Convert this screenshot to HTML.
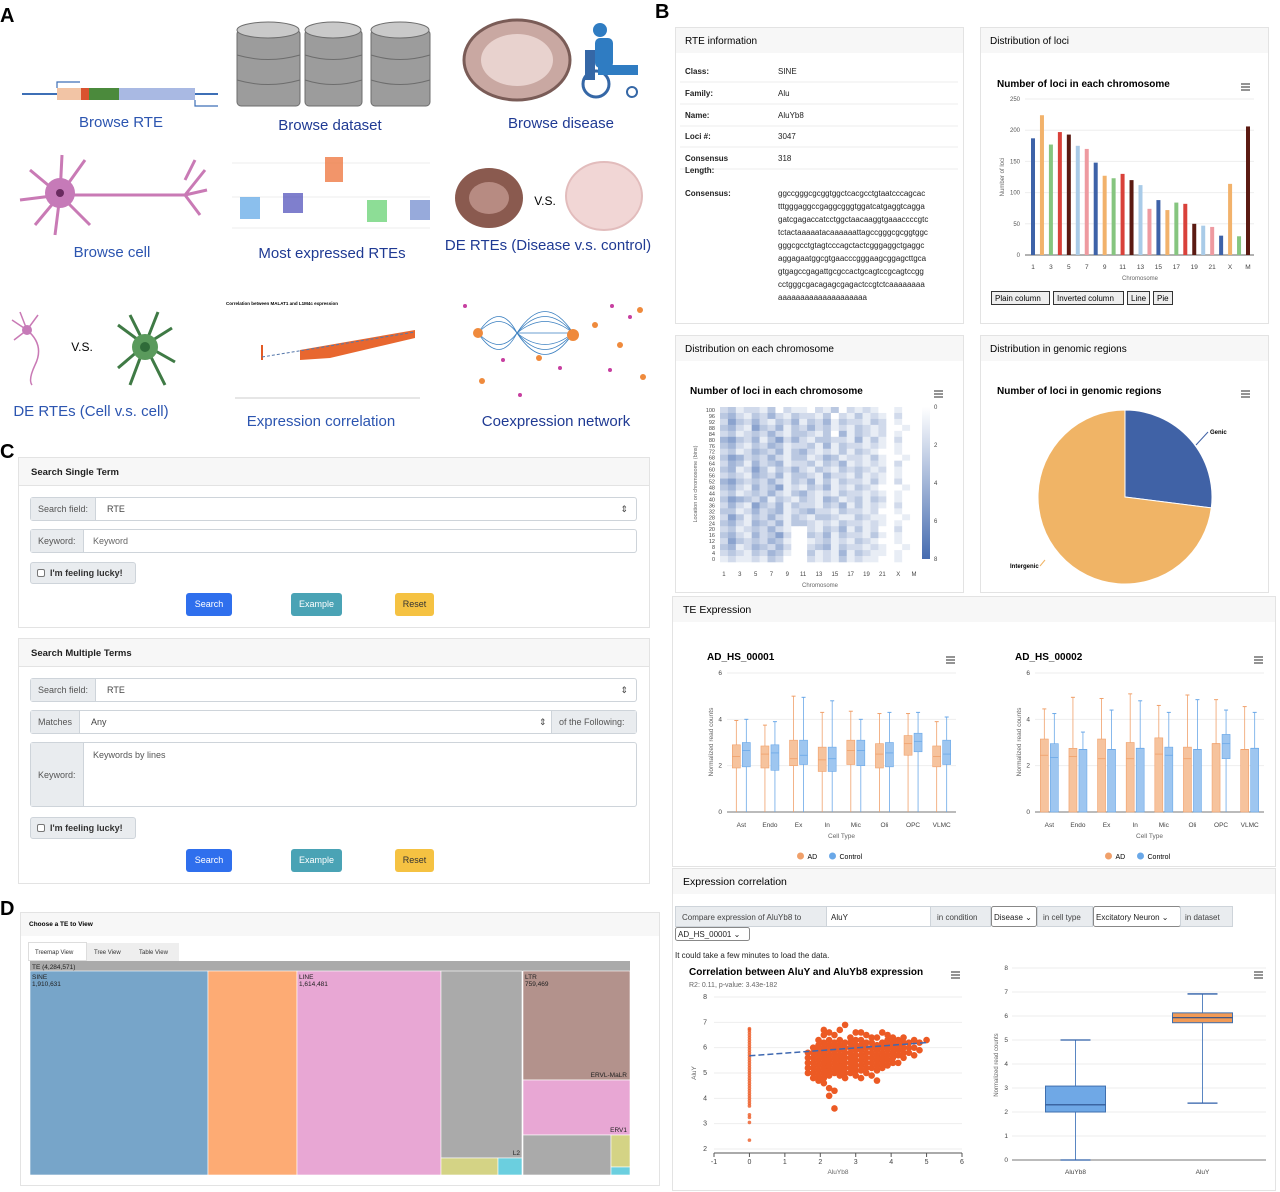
<!DOCTYPE html>
<html><head><meta charset="utf-8">
<style>
*{box-sizing:border-box;margin:0;padding:0}
body{width:1280px;height:1192px;background:#fff;font-family:"Liberation Sans",sans-serif;position:relative;overflow:hidden}
.abs{position:absolute}
.card{position:absolute;border:1px solid #e3e3e3;background:#fff}
.card .hd{background:#f7f7f7;border-bottom:1px solid #e3e3e3;font-size:9.5px;font-weight:bold;color:#222;padding:9px 12px;height:28px}
.grp{position:absolute;height:24px;border:1px solid #ced4da;border-radius:3px;font-size:9px;color:#444;background:#fff}
.grp .lb{position:absolute;left:0;top:0;bottom:0;background:#e9ecef;border-right:1px solid #ced4da;padding:6px 7px;color:#555}
.grp .val{position:absolute;top:6px}
.btn{position:absolute;height:23px;border-radius:3px;font-size:9px;color:#fff;text-align:center;line-height:23px}
.chk{position:absolute;height:22px;border:1px solid #ced4da;border-radius:3px;background:#e9ecef;font-size:9px;font-weight:bold;color:#333;padding:5px 6px}
.chk i{display:inline-block;width:8px;height:8px;border:1px solid #777;border-radius:2px;background:#fff;margin-right:5px;vertical-align:-1px}
</style></head>
<body>
<svg id="s" class="abs" style="left:0;top:0" width="1280" height="1192" font-family="Liberation Sans, sans-serif">
<text x="0" y="22" font-size="20" font-weight="bold">A</text>
<text x="655" y="18" font-size="20" font-weight="bold">B</text>
<text x="0" y="458" font-size="20" font-weight="bold">C</text>
<text x="0" y="915" font-size="20" font-weight="bold">D</text>

<g>
<line x1="22" y1="94" x2="218" y2="94" stroke="#3d6fb6" stroke-width="2"/>
<path d="M57 88 V82 H80 M195 100 V106 H218" stroke="#3d6fb6" fill="none" stroke-width="1.2"/>
<rect x="57" y="88" width="24" height="12" fill="#f2c4a5"/><rect x="81" y="88" width="8" height="12" fill="#d9532f"/>
<rect x="89" y="88" width="30" height="12" fill="#4b8a3c"/><rect x="119" y="88" width="76" height="12" fill="#a9b9e3"/>
<text x="121" y="127" font-size="15" fill="#2c55b0" text-anchor="middle">Browse RTE</text></g>
<g>
<g fill="#9c9c9c" stroke="#6d6d6d" stroke-width="1">
<rect x="237" y="30" width="63" height="76" rx="4"/><ellipse cx="268" cy="30" rx="31" ry="8" fill="#c9c9c9"/>
<rect x="305" y="30" width="57" height="76" rx="4"/><ellipse cx="333" cy="30" rx="28" ry="8" fill="#c9c9c9"/>
<rect x="371" y="30" width="59" height="76" rx="4"/><ellipse cx="400" cy="30" rx="29" ry="8" fill="#c9c9c9"/></g>
<path d="M237 55 Q268 64 300 55 M237 80 Q268 89 300 80 M305 55 Q333 64 362 55 M305 80 Q333 89 362 80 M371 55 Q400 64 430 55 M371 80 Q400 89 430 80" stroke="#6d6d6d" fill="none"/>
<text x="330" y="130" font-size="15" fill="#1f3a93" text-anchor="middle">Browse dataset</text></g>
<g>
<ellipse cx="517" cy="60" rx="53" ry="40" fill="#c9a8a2" stroke="#7a5c57" stroke-width="3"/>
<ellipse cx="517" cy="60" rx="36" ry="26" fill="#e8d2ce"/>
<circle cx="600" cy="30" r="7" fill="#2f7cc2"/><rect x="595" y="38" width="18" height="30" rx="5" fill="#2f7cc2"/>
<rect x="585" y="50" width="10" height="30" fill="#3567a6"/><circle cx="596" cy="84" r="13" fill="none" stroke="#3567a6" stroke-width="3"/>
<rect x="598" y="65" width="40" height="10" fill="#2f7cc2"/><circle cx="632" cy="92" r="5" fill="none" stroke="#3567a6" stroke-width="2"/>
<text x="561" y="128" font-size="15" fill="#1f3a93" text-anchor="middle">Browse disease</text></g>
<g>
<g stroke="#c97ab5" stroke-width="3" fill="none"><path d="M60 195 H185"/><path d="M185 195 L205 170 M185 195 L207 190 M185 195 L200 215 M185 180 L195 160"/>
<path d="M60 195 L30 170 M60 195 L20 200 M60 195 L35 225 M60 195 L62 155 M60 195 L85 160 M60 195 L90 225 M60 195 L55 235"/></g>
<circle cx="60" cy="193" r="15" fill="#c67ab8"/><circle cx="60" cy="193" r="4" fill="#6a2b60"/>
<text x="112" y="257" font-size="15" fill="#2c55b0" text-anchor="middle">Browse cell</text></g>
<g>
<line x1="232" y1="163" x2="430" y2="163" stroke="#eee"/><line x1="232" y1="197" x2="430" y2="197" stroke="#eee"/><line x1="232" y1="228" x2="430" y2="228" stroke="#eee"/>
<rect x="325" y="157" width="18" height="25" fill="#ef7b45" opacity="0.8"/><rect x="240" y="197" width="20" height="22" fill="#5aa4e6" opacity="0.7"/>
<rect x="283" y="193" width="20" height="20" fill="#4848b8" opacity="0.7"/><rect x="367" y="200" width="20" height="22" fill="#5ccf6a" opacity="0.7"/><rect x="410" y="200" width="20" height="20" fill="#6b86cc" opacity="0.7"/>
<text x="332" y="258" font-size="15" fill="#1f3a93" text-anchor="middle">Most expressed RTEs</text></g>
<g>
<ellipse cx="489" cy="198" rx="34" ry="30" fill="#8a5a4f"/><ellipse cx="489" cy="198" rx="20" ry="16" fill="#b78b82"/>
<text x="545" y="205" font-size="12" text-anchor="middle">V.S.</text>
<ellipse cx="604" cy="196" rx="38" ry="34" fill="#f1d6d5" stroke="#e2bcbc" stroke-width="2"/>
<text x="548" y="250" font-size="15" fill="#1f3a93" text-anchor="middle">DE RTEs (Disease v.s. control)</text></g>
<g>
<g stroke="#c97ab5" stroke-width="1.5" fill="none"><path d="M27 330 Q45 345 35 365 Q28 380 32 385"/><path d="M27 330 L12 320 M27 330 L20 312 M27 330 L38 315 M27 330 L14 340"/></g>
<circle cx="27" cy="330" r="5" fill="#c67ab8"/>
<text x="82" y="351" font-size="12" text-anchor="middle">V.S.</text>
<g stroke="#3f7a45" stroke-width="3" fill="none"><path d="M145 345 L118 325 M145 345 L130 315 M145 345 L158 312 M145 345 L172 328 M145 345 L118 368 M145 345 L130 385 M145 345 L165 385 M145 345 L175 362"/></g>
<circle cx="145" cy="347" r="13" fill="#5a9a5c"/><circle cx="145" cy="347" r="5" fill="#2f6b39"/>
<text x="91" y="416" font-size="15" fill="#2c55b0" text-anchor="middle">DE RTEs (Cell v.s. cell)</text></g>
<g>
<text x="226" y="305" font-size="4.5" font-weight="bold">Correlation between MALAT1 and L1M4c expression</text>
<line x1="235" y1="398" x2="420" y2="398" stroke="#ccc"/>
<line x1="262" y1="345" x2="262" y2="360" stroke="#e35a24" stroke-width="2"/>
<path d="M300 350 L415 330 L415 338 L330 358 L300 360 Z" fill="#e8672f"/>
<line x1="262" y1="357" x2="415" y2="332" stroke="#5577aa" stroke-dasharray="3 2"/>
<text x="321" y="426" font-size="15" fill="#2c55b0" text-anchor="middle">Expression correlation</text></g>
<g>
<g stroke="#3a7fc0" fill="none" stroke-width="0.8">
<path d="M478 333 Q500 300 517 333 Q500 366 478 333"/><path d="M478 333 Q500 310 517 333 Q500 356 478 333"/>
<path d="M517 333 Q545 290 573 333 Q545 376 517 333"/><path d="M517 333 Q545 300 573 333 Q545 366 517 333"/><path d="M517 333 Q545 310 573 333 Q545 356 517 333"/><path d="M517 333 H573"/></g>
<circle cx="478" cy="333" r="5" fill="#ef8a3c"/><circle cx="573" cy="335" r="6" fill="#ef8a3c"/>
<g fill="#ef8a3c"><circle cx="539" cy="358" r="3"/><circle cx="482" cy="381" r="3"/><circle cx="640" cy="310" r="3"/><circle cx="595" cy="325" r="3"/><circle cx="620" cy="345" r="3"/><circle cx="643" cy="377" r="3"/></g>
<g fill="#c73fa0"><circle cx="465" cy="306" r="2"/><circle cx="503" cy="360" r="2"/><circle cx="560" cy="368" r="2"/><circle cx="612" cy="306" r="2"/><circle cx="630" cy="317" r="2"/><circle cx="520" cy="395" r="2"/><circle cx="610" cy="370" r="2"/></g>
<text x="556" y="426" font-size="15" fill="#1f3a93" text-anchor="middle">Coexpression network</text></g>

<g>
<rect x="675.5" y="27.5" width="288" height="296" fill="#fff" stroke="#e3e3e3"/>
<rect x="676" y="28" width="287" height="25" fill="#f7f7f7"/>
<text x="685" y="44" font-size="10">RTE information</text>
<g font-size="8" fill="#222" id="rteinfo"></g></g>
<g>
<rect x="980.5" y="27.5" width="288" height="296" fill="#fff" stroke="#e3e3e3"/>
<rect x="981" y="28" width="287" height="25" fill="#f7f7f7"/>
<text x="990" y="44" font-size="10">Distribution of loci</text>
<text x="997" y="87" font-size="10" font-weight="bold">Number of loci in each chromosome</text>
<g><path d="M1241 84h9M1241 87h9M1241 90h9" stroke="#555" stroke-width="1.2"/></g>
<g id="barchart"></g>
<g font-size="8">
<g><rect x="991.5" y="291.5" width="58" height="13" fill="#eee" stroke="#333"/><text x="995" y="301">Plain column</text></g>
<g><rect x="1053.5" y="291.5" width="70" height="13" fill="#eee" stroke="#333"/><text x="1057" y="301">Inverted column</text></g>
<g><rect x="1127.5" y="291.5" width="22" height="13" fill="#eee" stroke="#333"/><text x="1131" y="301">Line</text></g>
<g><rect x="1153.5" y="291.5" width="19" height="13" fill="#eee" stroke="#333"/><text x="1157" y="301">Pie</text></g></g></g>
<g>
<rect x="675.5" y="335.5" width="288" height="257" fill="#fff" stroke="#e3e3e3"/>
<rect x="676" y="336" width="287" height="25" fill="#f7f7f7"/>
<text x="685" y="352" font-size="10">Distribution on each chromosome</text>
<text x="690" y="394" font-size="10" font-weight="bold">Number of loci in each chromosome</text>
<path d="M934 391h9M934 394h9M934 397h9" stroke="#555" stroke-width="1.2"/>
<g id="heatmap"></g></g>
<g>
<rect x="980.5" y="335.5" width="288" height="257" fill="#fff" stroke="#e3e3e3"/>
<rect x="981" y="336" width="287" height="25" fill="#f7f7f7"/>
<text x="990" y="352" font-size="10">Distribution in genomic regions</text>
<text x="997" y="394" font-size="10" font-weight="bold">Number of loci in genomic regions</text>
<path d="M1241 391h9M1241 394h9M1241 397h9" stroke="#555" stroke-width="1.2"/>
<g id="pie"></g></g>
<g>
<rect x="672.5" y="596.5" width="603" height="270" fill="#fff" stroke="#e3e3e3"/>
<rect x="673" y="597" width="602" height="25" fill="#f7f7f7"/>
<text x="683" y="613" font-size="10.5">TE Expression</text>
<g id="box1"></g><g id="box2"></g></g>
<g>
<rect x="672.5" y="868.5" width="603" height="322" fill="#fff" stroke="#e3e3e3"/>
<rect x="673" y="869" width="602" height="25" fill="#f7f7f7"/>
<text x="683" y="885" font-size="10.5">Expression correlation</text>
<g font-size="8" fill="#444">
<rect x="675.5" y="906.5" width="151" height="20" fill="#e9ecef" stroke="#ced4da"/><text x="682" y="920">Compare expression of  AluYb8  to</text>
<g><rect x="826.5" y="906.5" width="104" height="20" fill="#fff" stroke="#ced4da"/><text x="831" y="920" fill="#222">AluY</text></g>
<rect x="930.5" y="906.5" width="60" height="20" fill="#e9ecef" stroke="#ced4da"/><text x="937" y="920">in condition</text>
<g><rect x="991.5" y="906.5" width="45" height="20" fill="#fff" stroke="#888" rx="2"/><text x="994" y="920" fill="#222">Disease ⌄</text></g>
<rect x="1037.5" y="906.5" width="55" height="20" fill="#e9ecef" stroke="#ced4da"/><text x="1043" y="920">in cell type</text>
<g><rect x="1093.5" y="906.5" width="87" height="20" fill="#fff" stroke="#888" rx="2"/><text x="1096" y="920" fill="#222">Excitatory Neuron ⌄</text></g>
<rect x="1180.5" y="906.5" width="52" height="20" fill="#e9ecef" stroke="#ced4da"/><text x="1185" y="920">in dataset</text>
<g><rect x="675.5" y="927.5" width="74" height="13" fill="#fff" stroke="#888" rx="2"/><text x="678" y="937" fill="#222">AD_HS_00001 ⌄</text></g>
<text x="675" y="958" fill="#222">It could take a few minutes to load the data.</text></g>
<text x="689" y="975" font-size="10" font-weight="bold">Correlation between AluY and AluYb8 expression</text>
<text x="689" y="987" font-size="7" fill="#666">R2: 0.11, p-value: 3.43e-182</text>
<path d="M951 972h9M951 975h9M951 978h9" stroke="#555" stroke-width="1.2"/>
<path d="M1254 972h9M1254 975h9M1254 978h9" stroke="#555" stroke-width="1.2"/>
<g id="scatter"></g><g id="box3"></g></g>

<g>
<rect x="20.5" y="912.5" width="639" height="273" fill="#fff" stroke="#e3e3e3"/>
<rect x="21" y="913" width="638" height="23" fill="#f7f7f7"/>
<text x="29" y="926" font-size="6.5" font-weight="bold">Choose a TE to View</text>
<g font-size="6" fill="#333">
<g><rect x="28.5" y="942.5" width="58" height="18" fill="#fff" stroke="#ddd"/><text x="35" y="954">Treemap View</text></g>
<g><rect x="87" y="943" width="45" height="18" fill="#eee"/><text x="94" y="954">Tree View</text></g>
<g><rect x="132" y="943" width="47" height="18" fill="#eee"/><text x="139" y="954">Table View</text></g></g>
<g id="treemap"></g></g>
</svg>

<div class="card" style="left:18px;top:457px;width:632px;height:171px">
<div class="hd">Search Single Term</div></div>
<div class="grp" style="left:30px;top:497px;width:607px"><span class="lb">Search field:</span><span class="val" style="left:76px">RTE</span><span class="val" style="right:8px">⇕</span></div>
<div class="grp" style="left:30px;top:529px;width:607px"><span class="lb">Keyword:</span><span class="val" style="left:62px;color:#666">Keyword</span></div>
<div class="chk" style="left:30px;top:562px;width:106px"><i></i>I'm feeling lucky!</div>
<div class="btn" style="left:186px;top:593px;width:46px;background:#2f6fed">Search</div>
<div class="btn" style="left:291px;top:593px;width:51px;background:#4aa3b5">Example</div>
<div class="btn" style="left:395px;top:593px;width:39px;background:#f5c242;color:#333">Reset</div>

<div class="card" style="left:18px;top:638px;width:632px;height:246px">
<div class="hd">Search Multiple Terms</div></div>
<div class="grp" style="left:30px;top:678px;width:607px"><span class="lb">Search field:</span><span class="val" style="left:76px">RTE</span><span class="val" style="right:8px">⇕</span></div>
<div class="grp" style="left:30px;top:710px;width:607px"><span class="lb">Matches</span><span class="val" style="left:60px">Any</span><span class="val" style="left:508px">⇕</span><span class="lb" style="left:520px;right:0;border-left:1px solid #ced4da;border-right:none">of the Following:</span></div>
<div class="grp" style="left:30px;top:742px;width:607px;height:65px"><span class="lb" style="padding-top:27px">Keyword:</span><span class="val" style="left:62px;top:7px;color:#555">Keywords by lines</span></div>
<div class="chk" style="left:30px;top:817px;width:106px"><i></i>I'm feeling lucky!</div>
<div class="btn" style="left:186px;top:849px;width:46px;background:#2f6fed">Search</div>
<div class="btn" style="left:291px;top:849px;width:51px;background:#4aa3b5">Example</div>
<div class="btn" style="left:395px;top:849px;width:39px;background:#f5c242;color:#333">Reset</div>

<script>
const NS='http://www.w3.org/2000/svg';
function mk(tag,attrs,parent,txt){const e=document.createElementNS(NS,tag);for(const k in attrs)e.setAttribute(k,attrs[k]);if(txt!==undefined)e.textContent=txt;parent.appendChild(e);return e;}
const $=id=>document.getElementById(id);

const infoLabels=['Class:','Family:','Name:','Loci #:','Consensus','Consensus:'];
const infoValues=['SINE','Alu','AluYb8','3047','318'];
const seqLines=['ggccgggcgcggtggctcacgcctgtaatcccagcac','tttgggaggccgaggcgggtggatcatgaggtcagga','gatcgagaccatcctggctaacaaggtgaaaccccgtc','tctactaaaaatacaaaaaattagccgggcgcggtggc','gggcgcctgtagtcccagctactcgggaggctgaggc','aggagaatggcgtgaacccgggaagcggagcttgca','gtgagccgagattgcgccactgcagtccgcagtccgg','cctgggcgacagagcgagactccgtctcaaaaaaaa','aaaaaaaaaaaaaaaaaaaa'];
(function(){const g=$('rteinfo');const ys=[74,96,118,139,161];
ys.forEach((y,i)=>{const t=mk('text',{x:685,y:y,'font-weight':'bold'},g,infoLabels[i]);
const v=mk('text',{x:778,y:y},g,infoValues[i]);
const l=mk('line',{x1:680,x2:958,y1:y+8,y2:y+8,stroke:'#eee'},g);});
const t2=mk('text',{x:685,y:173,'font-weight':'bold'},g,'Length:');
const t3=mk('text',{x:685,y:196,'font-weight':'bold'},g,'Consensus:');
seqLines.forEach((s,i)=>{const t=mk('text',{x:778,y:196+i*13},g,s);});})();

const barCats=['1','2','3','4','5','6','7','8','9','10','11','12','13','14','15','16','17','18','19','20','21','22','X','Y','M'];
const barVals=[187,224,177,197,193,175,170,148,127,123,130,120,112,74,88,72,84,82,50,47,45,31,114,30,206];
const barColors=['#3d62a8','#f2b26b','#86c57f','#d9413a','#5b1a12','#a9cbe8','#ee9aa0'];
const barTicks=[0,50,100,150,200,250];
(function(){const g=$('barchart');const x0=1033,x1=1248,y0=255,y1=99;
const sx=i=>x0+i*(x1-x0)/(barCats.length-1), sy=v=>y0-(v/250)*(y0-y1);
barTicks.forEach(t=>{const l=mk('line',{x1:1025,x2:1254,y1:sy(t),y2:sy(t),stroke:t?'#eee':'#666'},g);
const tx=mk('text',{x:1020,y:sy(t)+2,'font-size':6,'text-anchor':'end',fill:'#555'},g,t);});
barCats.forEach((c,i)=>{const col=(c==='M')?'#5b1a12':barColors[i%7];
const r=mk('rect',{x:sx(i)-2,y:sy(barVals[i]),width:4,height:sy(0)-sy(barVals[i]),fill:col},g);
if(i%2===0){const t=mk('text',{x:sx(i),y:269,'font-size':6.5,'text-anchor':'middle',fill:'#444'},g,c);}});
const xt=mk('text',{x:1140,y:280,'font-size':6,'text-anchor':'middle',fill:'#666'},g,'Chromosome');
const yt=mk('text',{x:1004,y:177,'font-size':6,'text-anchor':'middle',fill:'#666',transform:'rotate(-90 1004 177)'},g,'Number of loci');})();

const heatCols=['1','2','3','4','5','6','7','8','9','10','11','12','13','14','15','16','17','18','19','20','21','22','X','Y','M'];
const heatRows=[100,96,92,88,84,80,76,72,68,64,60,56,52,48,44,40,36,32,28,24,20,16,12,8,4,0];
const heatVals=['2312213021102130212100100','3421324213221302131210200','2532421324132413221320100','3421532413242312132120010','2312324213321304132120100',
'4532413524213322141310200','3421324312231413221210100','2312432413421213132100100','3542324213312431221310010','2431423412231324121210200',
'3412531324213213232120100','2321432413321422131210100','4532324213241313221310200','3421423512132412132100010','2312324213421213221210100',
'3543241321321431231320100','2421532413221324131210200','3312423412342213221200100','2531324213213321132110010','3421432413321213221210100',
'2312324210021324131200200','3421423520032413221310100','2532324310012312132100100','3412432420023413221210010','2321324310031214132110100','1211213200021213121100100'];
const heatTicks=['100','96','92','88','84','80','76','72','68','64','60','56','52','48','44','40','36','32','28','24','20','16','12','8','4','0'];
(function(){const g=$('heatmap');const x0=720,x1=918,y0=407,y1=562;
const cw=(x1-x0)/heatCols.length, rh=(y1-y0)/heatRows.length;
const colr=v=>{const t=v/8;const r=Math.round(255-t*(255-70)),gg=Math.round(255-t*(255-108)),b=Math.round(255-t*(255-176));return `rgb(${r},${gg},${b})`;};
heatVals.forEach((row,ri)=>{for(let ci=0;ci<heatCols.length;ci++){const v=+row[ci];
const r=mk('rect',{x:x0+ci*cw,y:y0+ri*rh,width:cw+0.3,height:rh+0.3,fill:colr(v)},g);}});
heatTicks.forEach((t,i)=>{const tx=mk('text',{x:715,y:y0+i*rh+rh/2+2,'font-size':5.5,'text-anchor':'end',fill:'#444'},g,t);});
heatCols.forEach((c,i)=>{if(i%2===0){const tx=mk('text',{x:x0+i*cw+cw/2,y:576,'font-size':6,'text-anchor':'middle',fill:'#444'},g,c);}});
const xt=mk('text',{x:820,y:587,'font-size':6,'text-anchor':'middle',fill:'#666'},g,'Chromosome');
const yt=mk('text',{x:697,y:484,'font-size':5.5,'text-anchor':'middle',fill:'#666',transform:'rotate(-90 697 484)'},g,'Location on chromosome (bins)');
const defs=mk('defs',{},g);const lg=mk('linearGradient',{id:'cb',x1:0,y1:0,x2:0,y2:1},defs);mk('stop',{offset:0,'stop-color':'#fff'},lg);mk('stop',{offset:1,'stop-color':'#466cb0'},lg);
const cb=mk('rect',{x:922,y:407,width:8,height:152,fill:'url(#cb)'},g);
[0,2,4,6,8].forEach(v=>{const tx=mk('text',{x:934,y:409+v*19,'font-size':6,fill:'#444'},g,v);});})();

const pieLabels=['Genic','Intergenic'];
const pieVals=[27,73];
const pieColors=['#4062a6','#f0b466'];
(function(){const g=$('pie');const cx=1125,cy=497,r=87;let a=-Math.PI/2;const tot=pieVals.reduce((s,v)=>s+v,0);
pieVals.forEach((v,i)=>{const b=a+v/tot*2*Math.PI;const large=(b-a)>Math.PI?1:0;
const p=mk('path',{d:`M${cx} ${cy} L${cx+r*Math.cos(a)} ${cy+r*Math.sin(a)} A${r} ${r} 0 ${large} 1 ${cx+r*Math.cos(b)} ${cy+r*Math.sin(b)} Z`,fill:pieColors[i],stroke:'#fff','stroke-width':1},g);
a=b;});
const l1=mk('path',{d:'M1196 445 L1208 432',stroke:'#4062a6',fill:'none'},g);
const t1=mk('text',{x:1210,y:434,'font-size':6,'font-weight':'bold'},g,pieLabels[0]);
const l2=mk('path',{d:'M1045 560 L1040 566',stroke:'#f0b466',fill:'none'},g);
const t2=mk('text',{x:1010,y:568,'font-size':6,'font-weight':'bold'},g,pieLabels[1]);})();

const cellTypes=['Ast','Endo','Ex','In','Mic','Oli','OPC','VLMC'];
const boxTicks=[0,2,4,6];
const ds1AD=[[0,1.9,2.4,2.9,3.95],[0,1.9,2.5,2.85,3.75],[0,2.0,2.3,3.1,5.0],[0,1.75,2.25,2.8,4.3],[0,2.05,2.65,3.1,4.35],[0,1.9,2.5,2.95,4.25],[0,2.45,2.95,3.3,4.25],[0,1.95,2.4,2.85,3.9]];
const ds1Ctrl=[[0,1.95,2.65,3.0,4.0],[0,1.8,2.55,2.9,3.9],[0,2.05,2.45,3.1,4.95],[0,1.75,2.3,2.8,4.8],[0,2.0,2.65,3.1,4.0],[0,1.95,2.55,3.0,4.3],[0,2.6,3.05,3.4,4.3],[0,2.05,2.5,3.1,4.1]];
const ds2AD=[[0,0,2.45,3.15,4.45],[0,0,2.4,2.75,4.95],[0,0,2.3,3.15,4.9],[0,0,2.3,3.0,5.1],[0,0,2.5,3.2,4.6],[0,0,2.3,2.8,5.05],[0,0,2.95,2.95,4.85],[0,0,2.7,2.7,4.55]];
const ds2Ctrl=[[0,0,2.35,2.95,4.25],[0,0,2.7,2.7,3.45],[0,0,2.7,2.7,4.4],[0,0,2.75,2.75,4.8],[0,0,2.45,2.8,4.3],[0,0,2.7,2.7,4.85],[0,2.3,2.95,3.35,4.4],[0,0,2.75,2.75,4.3]];
function boxChart(id,title,x0,x1,AD,CT){const g=$(id);const y0=812,y1=673;const sy=v=>y0-v/6*(y0-y1);
const step=(x1-x0)/cellTypes.length;const sx=i=>x0+step*(i+0.5);
const tt=mk('text',{x:x0-20,y:660,'font-size':10,'font-weight':'bold'},g,title);
const mn=mk('path',{d:`M${x1-10} 657h9M${x1-10} 660h9M${x1-10} 663h9`,stroke:'#555','stroke-width':1.2},g);
boxTicks.forEach(t=>{const l=mk('line',{x1:x0,x2:x1,y1:sy(t),y2:sy(t),stroke:t?'#eee':'#777'},g);
const tx=mk('text',{x:x0-5,y:sy(t)+2,'font-size':6.5,'text-anchor':'end',fill:'#444'},g,t);});
const draw=(d,cx,fill,stroke,name)=>{const w=8;
const wh=mk('line',{x1:cx,x2:cx,y1:sy(d[0]),y2:sy(d[4]),stroke:stroke,'stroke-width':0.8},g);
const cap=mk('line',{x1:cx-2,x2:cx+2,y1:sy(d[4]),y2:sy(d[4]),stroke:stroke},g);
const b=mk('rect',{x:cx-w/2,y:sy(d[3]),width:w,height:Math.max(0.5,sy(d[1])-sy(d[3])),fill:fill,stroke:stroke,'stroke-width':0.6},g);
const m=mk('line',{x1:cx-w/2,x2:cx+w/2,y1:sy(d[2]),y2:sy(d[2]),stroke:stroke,'stroke-width':0.8},g);};
cellTypes.forEach((c,i)=>{draw(AD[i],sx(i)-5,'#f6c39d','#f0a06a','box-ad-'+c);draw(CT[i],sx(i)+5,'#9ec6f0','#6aa8e8','box-control-'+c);
const tx=mk('text',{x:sx(i),y:827,'font-size':6.5,'text-anchor':'middle',fill:'#444'},g,c);});
const xt=mk('text',{x:(x0+x1)/2,y:838,'font-size':6.5,'text-anchor':'middle',fill:'#666'},g,'Cell Type');
const yt=mk('text',{x:x0-14,y:742,'font-size':6.5,'text-anchor':'middle',fill:'#666',transform:`rotate(-90 ${x0-14} 742)`},g,'Normalized read counts');
const lc=(x0+x1)/2;const c1=mk('circle',{cx:lc-41,cy:856,r:3.5,fill:'#f0a06a'},g);
const l1=mk('text',{x:lc-34,y:859,'font-size':7},g,'AD');
const c2=mk('circle',{cx:lc-9,cy:856,r:3.5,fill:'#6aa8e8'},g);
const l2=mk('text',{x:lc-2,y:859,'font-size':7},g,'Control');}
boxChart('box1','AD_HS_00001',727,956,ds1AD,ds1Ctrl);
boxChart('box2','AD_HS_00002',1035,1264,ds2AD,ds2Ctrl);

const zeroColY=[6.75,6.7,6.6,6.5,6.4,6.3,6.2,6.1,6.0,5.9,5.8,5.7,5.6,5.5,5.4,5.3,5.2,5.1,5.0,4.9,4.8,4.7,4.6,4.5,4.4,4.3,4.2,4.1,4.0,3.9,3.8,3.7,3.35,3.25,3.05,2.35];
const blobX=[1.65,1.8,1.95,2.1,2.25,2.4,2.55,2.7,2.85,3.0,3.15,3.3,3.45,3.6,3.75,3.9,4.05,4.2,4.35,4.5,4.65,4.8,5.0];
const blobY=[[5.0,5.2,5.4,5.6,5.8],[4.8,5.0,5.2,5.4,5.6,5.8,6.0],[4.7,4.9,5.1,5.3,5.5,5.7,5.9,6.1,6.3],[4.6,4.8,5.0,5.2,5.4,5.6,5.8,6.0,6.2,6.5,6.7],[4.1,4.4,4.9,5.1,5.3,5.5,5.7,5.9,6.1,6.3,6.6],[3.6,4.3,5.0,5.2,5.4,5.6,5.8,6.0,6.2,6.5],[4.9,5.1,5.3,5.5,5.7,5.9,6.1,6.3,6.7],[4.8,5.0,5.2,5.4,5.6,5.8,6.0,6.2,6.9],[5.0,5.2,5.4,5.6,5.8,6.0,6.2,6.4],[4.9,5.1,5.3,5.5,5.7,5.9,6.1,6.3,6.6],[4.8,5.1,5.3,5.5,5.7,5.9,6.1,6.3,6.6],[5.0,5.2,5.4,5.6,5.8,6.0,6.2,6.5],[4.9,5.2,5.4,5.6,5.8,6.0,6.2,6.4],[4.7,5.1,5.3,5.5,5.7,5.9,6.1,6.4],[5.2,5.4,5.6,5.8,6.0,6.2,6.6],[5.3,5.5,5.7,5.9,6.1,6.3,6.5],[5.4,5.6,5.8,6.0,6.2,6.4],[5.4,5.7,5.9,6.1,6.3],[5.6,5.8,6.0,6.2,6.4],[5.8,6.0,6.2],[5.7,6.0,6.3],[5.9,6.2],[6.3]];
const trend=[[0,5.68],[5,6.2]];
const scXTicks=[-1,0,1,2,3,4,5,6];
const scYTicks=[2,3,4,5,6,7,8];
(function(){const g=$('scatter');const sx=v=>714+(v+1)*248/7, sy=v=>1149-(v-2)*25.33;
scYTicks.forEach(t=>{const l=mk('line',{x1:714,x2:962,y1:sy(t),y2:sy(t),stroke:'#eee'},g);
const tx=mk('text',{x:707,y:sy(t)+2,'font-size':7,'text-anchor':'end',fill:'#444'},g,t);});
const ax=mk('line',{x1:714,x2:962,y1:1153,y2:1153,stroke:'#555'},g);
scXTicks.forEach(t=>{const tk=mk('line',{x1:sx(t),x2:sx(t),y1:1153,y2:1157,stroke:'#555'},g);
const tx=mk('text',{x:sx(t),y:1164,'font-size':7,'text-anchor':'middle',fill:'#444'},g,t);});
zeroColY.forEach(y=>{const c=mk('circle',{cx:sx(0),cy:sy(y),r:1.8,fill:'#ec5a24',opacity:0.8},g);});
blobX.forEach((x,i)=>blobY[i].forEach(y=>{const c=mk('circle',{cx:sx(x),cy:sy(y),r:3.3,fill:'#ec5a24'},g);}));
const tl=mk('line',{x1:sx(trend[0][0]),y1:sy(trend[0][1]),x2:sx(trend[1][0]),y2:sy(trend[1][1]),stroke:'#3f68b0','stroke-width':1.5,'stroke-dasharray':'6 3'},g);
const xt=mk('text',{x:838,y:1174,'font-size':6.5,'text-anchor':'middle',fill:'#666'},g,'AluYb8');
const yt=mk('text',{x:696,y:1073,'font-size':6.5,'text-anchor':'middle',fill:'#666',transform:'rotate(-90 696 1073)'},g,'AluY');})();

const cmpCats=['AluYb8','AluY'];
const cmpBoxes=[[0,2.0,2.3,3.08,5.0],[2.37,5.72,5.93,6.13,6.92]];
const cmpColors=['#6fa8e6','#f29a55'];
const cmpTicks=[0,1,2,3,4,5,6,7,8];
(function(){const g=$('box3');const x0=1012,x1=1266,sy=v=>1160-v*24;const sx=i=>x0+(x1-x0)*(i+0.5)/cmpCats.length;
cmpTicks.forEach(t=>{const l=mk('line',{x1:x0,x2:x1,y1:sy(t),y2:sy(t),stroke:t?'#eee':'#777'},g);
const tx=mk('text',{x:1008,y:sy(t)+2,'font-size':6.5,'text-anchor':'end',fill:'#444'},g,t);});
cmpCats.forEach((c,i)=>{const d=cmpBoxes[i],cx=sx(i),w=60;
const wh=mk('line',{x1:cx,x2:cx,y1:sy(d[0]),y2:sy(d[4]),stroke:'#5a86c2'},g);
[d[0],d[4]].forEach(v=>{const cp=mk('line',{x1:cx-15,x2:cx+15,y1:sy(v),y2:sy(v),stroke:'#2f5fa8','stroke-width':1.3},g);});
const b=mk('rect',{x:cx-w/2,y:sy(d[3]),width:w,height:sy(d[1])-sy(d[3]),fill:cmpColors[i],stroke:'#3f6fae'},g);
const m=mk('line',{x1:cx-w/2,x2:cx+w/2,y1:sy(d[2]),y2:sy(d[2]),stroke:'#2a4f8a','stroke-width':1.2},g);
const tx=mk('text',{x:cx,y:1174,'font-size':6.5,'text-anchor':'middle',fill:'#444'},g,c);});
const yt=mk('text',{x:998,y:1065,'font-size':6,'text-anchor':'middle',fill:'#666',transform:'rotate(-90 998 1065)'},g,'Normalized read counts');})();

const tmNames=['SINE','SINE-2','LINE','L2','L2-a','L2-b','LTR','ERVL-MaLR','ERV1','LTR-other','LTR-a','LTR-b'];
const tmRects=[[30,971,208,1175],[208,971,297,1175],[297,971,441,1175],[441,971,522,1158],[441,1158,498,1175],[498,1158,522,1175],[523,971,630,1080],[523,1080,630,1135],[523,1135,611,1175],[611,1135,630,1167],[611,1167,630,1175]];
const tmColors=['#77a5c9','#fdab74','#e8a7d4','#aaaaaa','#d4d385','#6bcfdf','#b3928c','#e8a7d4','#aaaaaa','#d4d385','#6bcfdf'];
const tmLabels=[['SINE','1,910,631'],null,['LINE','1,614,481'],null,null,null,['LTR','759,469'],null,null,null,null];
(function(){const g=$('treemap');
const hd=mk('rect',{x:30,y:961,width:600,height:10,fill:'#aaaaaa'},g);
const ht=mk('text',{x:32,y:969,'font-size':6.5,fill:'#222'},g,'TE (4,284,571)');
tmRects.forEach((r,i)=>{const e=mk('rect',{x:r[0],y:r[1],width:r[2]-r[0],height:r[3]-r[1],fill:tmColors[i],stroke:'#fff','stroke-width':0.6},g);
if(tmLabels[i]){tmLabels[i].forEach((s,k)=>{const t=mk('text',{x:r[0]+2,y:r[1]+8+k*7,'font-size':6.5,fill:'#222'},g,s);});}});
[['ERVL-MaLR',627,1077],['ERV1',627,1132],['L2',520,1155]].forEach(a=>{const t=mk('text',{x:a[1],y:a[2],'font-size':6.5,'text-anchor':'end',fill:'#222'},g,a[0]);});})();
</script>
</body></html>
